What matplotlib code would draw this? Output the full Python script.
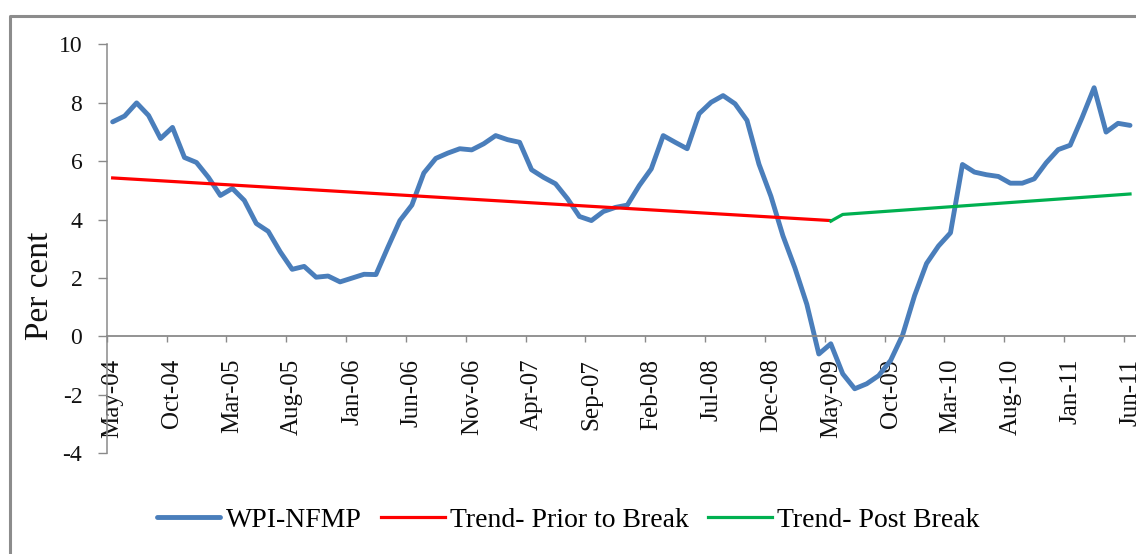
import numpy as np
import matplotlib
matplotlib.use("Agg")
import matplotlib.pyplot as plt
from matplotlib.lines import Line2D

plt.rcParams['font.family'] = ['Liberation Serif', 'DejaVu Serif']

# WPI-NFMP inflation, monthly, May-04 .. Jun-11 (per cent)
wpi_nfmp = [7.35, 7.55, 8.0, 7.57, 6.78, 7.16, 6.13, 5.96, 5.45, 4.83,
            5.07, 4.66, 3.87, 3.6, 2.9, 2.3, 2.4, 2.03, 2.07, 1.87,
            2.0, 2.13, 2.12, 3.06, 3.97, 4.5, 5.6, 6.1, 6.28, 6.43,
            6.39, 6.6, 6.88, 6.74, 6.65, 5.71, 5.45, 5.23, 4.72, 4.11,
            3.97, 4.28, 4.42, 4.5, 5.17, 5.74, 6.88, 6.65, 6.43, 7.63,
            8.02, 8.25, 7.97, 7.4, 5.9, 4.8, 3.45, 2.35, 1.1, -0.6,
            -0.25, -1.28, -1.79, -1.62, -1.34, -0.82, 0.05, 1.4, 2.5, 3.1,
            3.55, 5.89, 5.63, 5.54, 5.48, 5.25, 5.25, 5.4, 5.95, 6.4,
            6.55, 7.5, 8.52, 7.0, 7.3, 7.23]

# trend lines (month index, value)
trend_prior_idx = [0, 60]
trend_prior_val = [5.43, 3.97]
trend_post_idx = [60, 61, 85]
trend_post_val = [3.95, 4.18, 4.88]

tick_labels = ['May-04', 'Oct-04', 'Mar-05', 'Aug-05', 'Jan-06', 'Jun-06',
               'Nov-06', 'Apr-07', 'Sep-07', 'Feb-08', 'Jul-08', 'Dec-08',
               'May-09', 'Oct-09', 'Mar-10', 'Aug-10', 'Jan-11', 'Jun-11']
y_ticks = [-4, -2, 0, 2, 4, 6, 8, 10]

months = np.arange(len(wpi_nfmp))
label_pos = months[::5]

fig = plt.figure(figsize=(11.36, 5.54), dpi=100)
ax = fig.add_axes([0.0939, 0.1818, 0.9061, 0.7379])

ax.plot(months, wpi_nfmp, color='#4a7ebb', lw=3.5, solid_joinstyle='round',
        solid_capstyle='round', label='WPI-NFMP')
ax.plot(trend_prior_idx, trend_prior_val, color='#ff0000', lw=2.3,
        label='Trend- Prior to Break')
ax.plot(trend_post_idx, trend_post_val, color='#00b050', lw=2.3,
        label='Trend- Post Break')

ax.set_xlim(-0.5, len(wpi_nfmp) - 0.5)
ax.set_ylim(-4, 10)

# axis styling
grey = '#8a8a8a'
for s in ['top', 'right']:
    ax.spines[s].set_visible(False)
ax.spines['left'].set_color(grey)
ax.spines['bottom'].set_color(grey)
ax.spines['left'].set_linewidth(1.1)
ax.spines['bottom'].set_linewidth(1.3)
ax.spines['bottom'].set_position(('data', 0))

ax.set_yticks(y_ticks)
ax.set_yticklabels([str(v) for v in y_ticks], fontsize=17, color='#111111')
ax.tick_params(axis='y', length=6.5, width=1, color=grey, pad=11)

# ticks between categories, labels at category centres
ax.set_xticks(np.arange(-0.5, len(wpi_nfmp), 5))
ax.set_xticklabels([])
ax.tick_params(axis='x', which='major', length=4, width=1, color=grey)
ax.set_xticks(label_pos, minor=True)
ax.set_xticklabels(tick_labels, minor=True, rotation=90, fontsize=18,
                   color='#111111', ha='center', va='top')
ax.tick_params(axis='x', which='minor', length=0, pad=16)

ax.set_ylabel('Per cent', fontsize=24, color='#111111')
ax.yaxis.set_label_coords(-0.05, 0.41)

fig.legend(loc='center', bbox_to_anchor=(0.5, 0.061), ncol=3, frameon=False,
           fontsize=20, handlelength=2.3, handletextpad=0.18, columnspacing=0.7)

# chart area border
fig.add_artist(Line2D([10 / 1136, 10 / 1136, 1], [0, 1 - 16 / 554, 1 - 16 / 554],
                      transform=fig.transFigure, color='#8c8c8c', lw=2.2))

fig.savefig('out.png', dpi=100)
